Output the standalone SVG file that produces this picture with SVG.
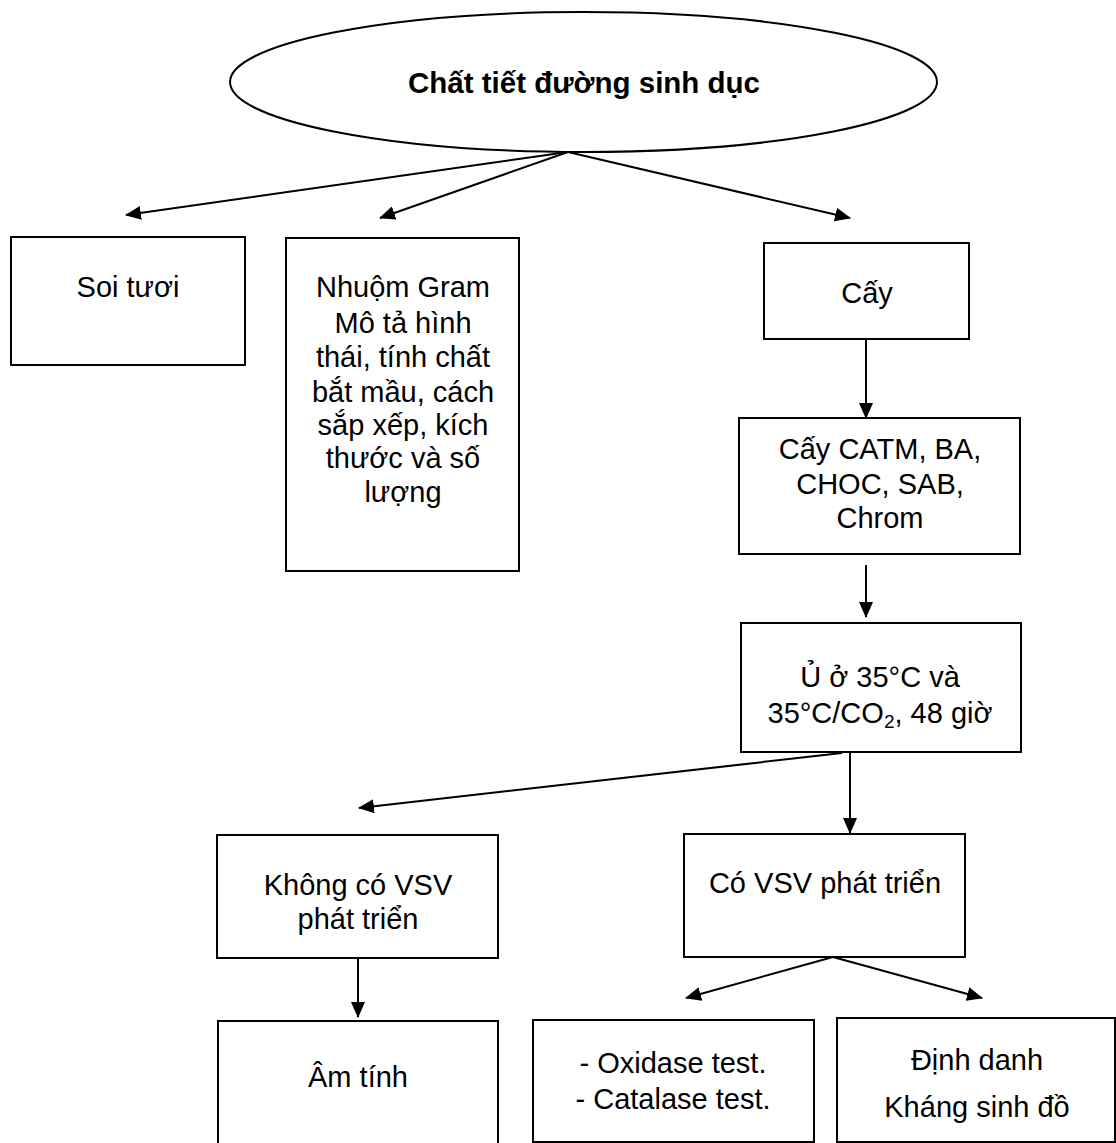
<svg xmlns="http://www.w3.org/2000/svg" width="1116" height="1143" viewBox="0 0 1116 1143">
<style>
.box{fill:#fff;stroke:#000;stroke-width:2}
.t{font-family:"Liberation Sans",Arial,sans-serif;font-size:29px;text-anchor:middle;fill:#000}
.b{font-weight:bold;font-size:29.5px}
.c{stroke:#000;stroke-width:2;fill:none;marker-end:url(#ah)}
</style>
<defs>
<marker id="ah" markerUnits="userSpaceOnUse" markerWidth="16" markerHeight="14" refX="15" refY="7" orient="auto">
<path d="M0,0 L16,7 L0,14 z" fill="#000"/>
</marker>
</defs>
<rect width="1116" height="1143" fill="#fff"/>
<g id="connectors">
<line class="c" x1="568" y1="152" x2="126" y2="215"/>
<line class="c" x1="568" y1="152" x2="380" y2="218"/>
<line class="c" x1="568" y1="152" x2="850" y2="218"/>
<line class="c" x1="866" y1="339" x2="866" y2="418"/>
<line class="c" x1="866" y1="565" x2="866" y2="617"/>
<line class="c" x1="842" y1="753" x2="359" y2="808"/>
<line class="c" x1="850" y1="753" x2="850" y2="833"/>
<line class="c" x1="358" y1="958" x2="358" y2="1017"/>
<line class="c" x1="833" y1="957" x2="686" y2="998"/>
<line class="c" x1="833" y1="957" x2="982" y2="998"/>
</g>
<g id="root">
<ellipse cx="583.5" cy="82" rx="353.5" ry="70" fill="#fff" stroke="#000" stroke-width="2"/>
<text class="t b" x="584" y="93">Chất tiết đường sinh dục</text>
</g>
<g id="soi">
<rect class="box" x="11" y="237" width="234" height="128"/>
<text class="t" x="128" y="297">Soi tươi</text>
</g>
<g id="nhuom">
<rect class="box" x="286" y="238" width="233" height="333"/>
<text class="t" x="403" y="297">Nhuộm Gram</text>
<text class="t" x="403" y="333">Mô tả hình</text>
<text class="t" x="403" y="367">thái, tính chất</text>
<text class="t" x="403" y="402">bắt mầu, cách</text>
<text class="t" x="403" y="435">sắp xếp, kích</text>
<text class="t" x="403" y="468">thước và số</text>
<text class="t" x="403" y="502">lượng</text>
</g>
<g id="cay">
<rect class="box" x="764" y="243" width="205" height="96"/>
<text class="t" x="867" y="303">Cấy</text>
</g>
<g id="catm">
<rect class="box" x="739" y="418" width="281" height="136"/>
<text class="t" x="880" y="459">Cấy CATM, BA,</text>
<text class="t" x="880" y="494">CHOC, SAB,</text>
<text class="t" x="880" y="528">Chrom</text>
</g>
<g id="u">
<rect class="box" x="741" y="623" width="280" height="129"/>
<text class="t" x="880" y="687">Ủ ở 35°C và</text>
<text class="t" x="880" y="723">35°C/CO<tspan font-size="19" dy="5">2</tspan><tspan dy="-5">, 48 giờ</tspan></text>
</g>
<g id="khong">
<rect class="box" x="217" y="835" width="281" height="123"/>
<text class="t" x="358" y="895">Không có VSV</text>
<text class="t" x="358" y="929">phát triển</text>
</g>
<g id="co">
<rect class="box" x="684" y="834" width="281" height="123"/>
<text class="t" x="825" y="893">Có VSV phát triển</text>
</g>
<g id="am">
<rect class="box" x="218" y="1021" width="280" height="140"/>
<text class="t" x="358" y="1087">Âm tính</text>
</g>
<g id="oxi">
<rect class="box" x="533" y="1020" width="281" height="122"/>
<text class="t" x="673" y="1073">- Oxidase test.</text>
<text class="t" x="673" y="1109">- Catalase test.</text>
</g>
<g id="dinh">
<rect class="box" x="837" y="1018" width="278" height="124"/>
<text class="t" x="977" y="1070">Định danh</text>
<text class="t" x="977" y="1117">Kháng sinh đồ</text>
</g>
</svg>
